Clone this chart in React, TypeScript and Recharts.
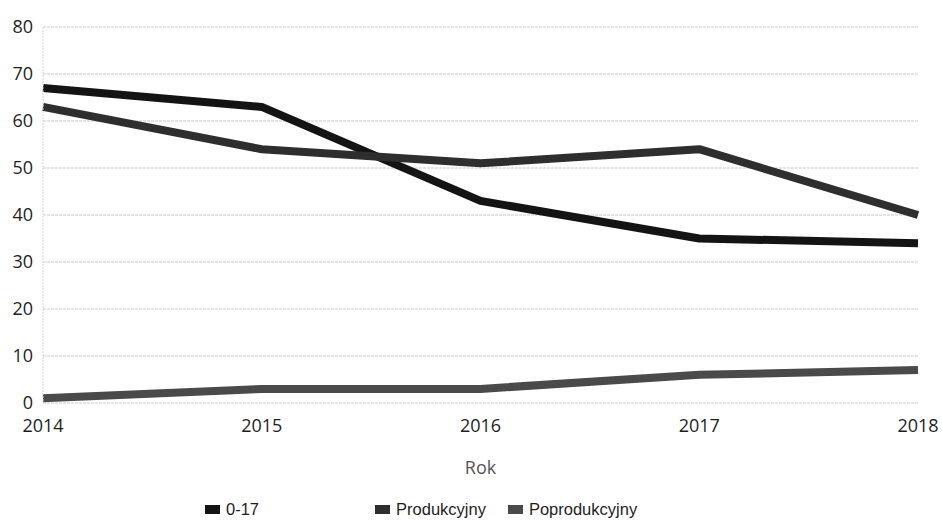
import React from "react";
import { CartesianGrid, Legend, Line, LineChart, XAxis, YAxis } from "recharts";

const years = ["2014", "2015", "2016", "2017", "2018"];
const age0to17 = [67, 63, 43, 35, 34];
const produkcyjny = [63, 54, 51, 54, 40];
const poprodukcyjny = [1, 3, 3, 6, 7];
const yTicks = [0, 10, 20, 30, 40, 50, 60, 70, 80];

const data = years.map((rok, i) => ({
  rok,
  a: age0to17[i],
  b: produkcyjny[i],
  c: poprodukcyjny[i],
}));

const series = [
  { dataKey: "a", name: "0-17", color: "#141414", gap: 116 },
  { dataKey: "b", name: "Produkcyjny", color: "#2e2e2e", gap: 22 },
  { dataKey: "c", name: "Poprodukcyjny", color: "#4a4a4a", gap: 0 },
];

const font = "'Open Sans', 'DejaVu Sans', sans-serif";

const LegendContent = () => (
  <div
    style={{
      display: "flex",
      alignItems: "center",
      fontFamily: "'Liberation Sans', Arial, sans-serif",
      fontSize: 16.5,
      color: "#1e1e1e",
    }}
  >
    {series.map((s) => (
      <div key={s.dataKey} style={{ display: "flex", alignItems: "center", marginRight: s.gap }}>
        <span style={{ display: "inline-block", width: 15, height: 9, background: s.color, marginRight: 6 }} />
        <span>{s.name}</span>
      </div>
    ))}
  </div>
);

export default function App() {
  return (
    <div style={{ position: "absolute", left: 0, top: 0, width: 942, height: 522, background: "#fff" }}>
      <LineChart width={942} height={522} data={data} margin={{ top: 27, right: 24, bottom: 0, left: 0 }}>
        <CartesianGrid vertical={false} stroke="#c9c9d4" strokeDasharray="3 1" />
        <XAxis
          dataKey="rok"
          height={100}
          axisLine={false}
          tickLine={false}
          tickMargin={10}
          interval={0}
          tick={{ fill: "#1e1e1e", fontSize: 18, fontFamily: font }}
          label={{ value: "Rok", position: "insideTop", offset: 58, fill: "#555", fontSize: 18, fontFamily: font }}
        />
        <YAxis
          width={43}
          domain={[0, 80]}
          ticks={yTicks}
          axisLine={{ stroke: "#d4d4dc", strokeDasharray: "2 1" }}
          tickLine={false}
          tickMargin={4}
          tick={{ fill: "#1e1e1e", fontSize: 18, fontFamily: font }}
        />
        <Legend content={<LegendContent />} wrapperStyle={{ left: 205, top: 500, width: "auto" }} />
        {series.map((s) => (
          <Line
            key={s.dataKey}
            type="linear"
            dataKey={s.dataKey}
            name={s.name}
            stroke={s.color}
            strokeWidth={8}
            strokeLinejoin="round"
            dot={false}
            activeDot={false}
            isAnimationActive={false}
          />
        ))}
      </LineChart>
    </div>
  );
}
